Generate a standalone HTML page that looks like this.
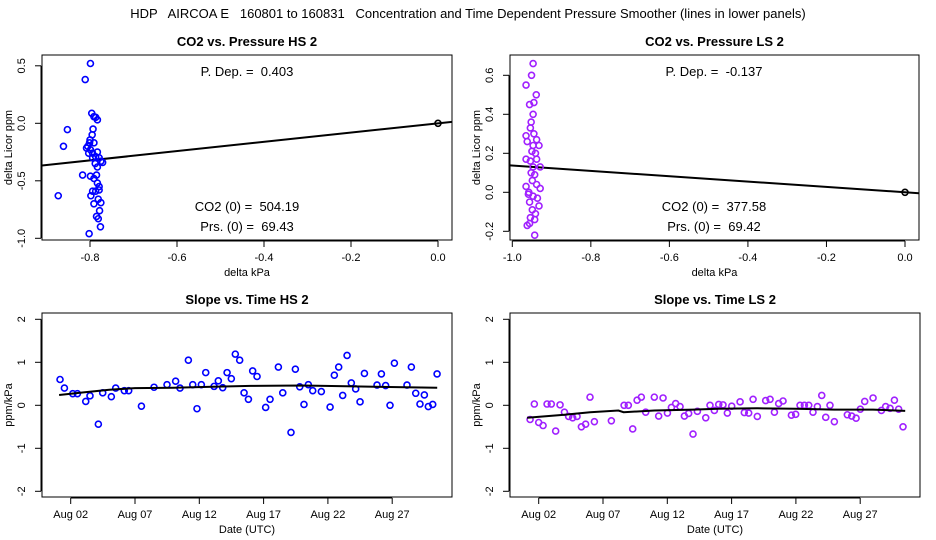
<!DOCTYPE html>
<html><head><meta charset="utf-8"><style>
body{margin:0;background:#fff;}
svg{display:block;font-family:"Liberation Sans",sans-serif;}
svg text{white-space:pre;}
</style></head><body>
<svg id="c" width="936" height="540" xmlns="http://www.w3.org/2000/svg">
<text x="468" y="18" font-size="13" text-anchor="middle" xml:space="preserve">HDP   AIRCOA E   160801 to 160831   Concentration and Time Dependent Pressure Smoother (lines in lower panels)</text>
</svg>
<script>
// ---- data ----
const hsPresX=[-0.799,-0.811,-0.852,-0.861,-0.873,-0.817,-0.802,-0.796,-0.791,-0.787,-0.783,-0.793,-0.795,-0.800,-0.805,-0.808,-0.799,-0.791,-0.783,-0.787,-0.779,-0.775,-0.771,-0.794,-0.788,-0.783,-0.785,-0.799,-0.791,-0.783,-0.779,-0.787,-0.794,-0.798,-0.781,-0.775,-0.791,-0.778,-0.785,-0.781,-0.776,-0.794,-0.801,-0.779,-0.803];
const hsPresY=[0.52,0.38,-0.055,-0.20,-0.63,-0.45,-0.96,0.087,0.058,0.052,0.03,-0.05,-0.10,-0.145,-0.20,-0.215,-0.23,-0.17,-0.25,-0.29,-0.30,-0.33,-0.34,-0.30,-0.35,-0.38,-0.45,-0.46,-0.48,-0.52,-0.55,-0.59,-0.59,-0.63,-0.66,-0.69,-0.70,-0.76,-0.81,-0.83,-0.90,-0.26,-0.17,-0.58,-0.26];
const lsPresX=[-0.947,-0.951,-0.965,-0.939,-0.945,-0.956,-0.947,-0.952,-0.954,-0.965,-0.962,-0.938,-0.947,-0.932,-0.950,-0.965,-0.954,-0.938,-0.947,-0.929,-0.943,-0.949,-0.965,-0.938,-0.929,-0.959,-0.947,-0.956,-0.932,-0.949,-0.941,-0.954,-0.943,-0.962,-0.956,-0.943,-0.941,-0.952,-0.936,-0.945,-0.958];
const lsPresY=[0.66,0.60,0.55,0.50,0.46,0.45,0.40,0.36,0.33,0.29,0.26,0.27,0.24,0.24,0.21,0.17,0.16,0.17,0.13,0.13,0.09,0.06,0.03,0.04,0.02,-0.01,-0.02,-0.05,-0.07,-0.09,-0.11,-0.13,-0.14,-0.17,-0.16,-0.22,0.20,0.10,-0.03,0.30,0.00];
const hsSlopeDay=[1.17,1.51,2.16,2.52,3.17,3.50,4.15,4.49,5.16,5.50,6.17,6.51,7.50,8.48,9.49,10.16,10.50,11.15,11.49,11.82,12.16,12.50,13.15,13.48,13.82,14.16,14.49,14.80,15.14,15.48,15.82,16.15,16.49,17.16,17.50,18.15,18.49,19.13,19.47,19.81,20.14,20.48,20.82,21.49,22.17,22.50,22.84,23.15,23.49,23.82,24.16,24.50,24.84,25.82,26.16,26.49,26.83,27.17,28.15,28.49,28.83,29.16,29.50,29.81,30.15,30.49];
const hsSlopeVal=[0.60,0.40,0.27,0.27,0.09,0.22,-0.44,0.29,0.20,0.40,0.34,0.34,-0.02,0.42,0.48,0.56,0.40,1.05,0.48,-0.08,0.48,0.76,0.44,0.57,0.41,0.76,0.62,1.19,1.05,0.29,0.14,0.80,0.67,-0.05,0.14,0.89,0.29,-0.63,0.84,0.43,0.02,0.48,0.34,0.32,-0.04,0.70,0.89,0.23,1.16,0.52,0.38,0.08,0.74,0.47,0.73,0.46,0.00,0.98,0.47,0.89,0.28,0.03,0.24,-0.03,0.02,0.73];
const hsSmoothDay=[1.1,3,5,7,10,13,16,20,24,28,30.5];
const hsSmoothVal=[0.24,0.30,0.36,0.40,0.41,0.43,0.45,0.46,0.44,0.42,0.41];
const lsSlopeDay=[1.33,1.66,2.00,2.34,2.65,2.98,3.32,3.66,4.00,4.33,4.64,4.98,5.32,5.65,5.99,6.33,7.65,8.64,8.97,9.31,9.65,9.98,10.32,10.99,11.33,11.67,12.01,12.32,12.65,12.99,13.33,13.66,14.00,14.34,14.99,15.32,15.66,16.00,16.33,16.67,17.01,17.66,17.99,18.33,18.67,19.00,19.65,19.99,20.33,20.66,21.00,21.65,21.98,22.32,22.66,23.00,23.33,23.67,24.01,24.32,24.65,24.99,26.00,26.34,26.68,27.01,27.35,28.00,28.65,28.98,29.32,29.66,29.99,30.33];
const lsSlopeVal=[-0.33,0.03,-0.40,-0.47,0.03,0.03,-0.60,0.01,-0.16,-0.26,-0.29,-0.26,-0.50,-0.44,0.19,-0.38,-0.36,0,0,-0.55,0.12,0.19,-0.16,0.19,-0.25,0.17,-0.18,-0.05,0.04,-0.03,-0.25,-0.19,-0.67,-0.14,-0.29,0,-0.12,0.02,0.01,-0.18,-0.02,0.08,-0.17,-0.18,0.14,-0.26,0.11,0.14,-0.16,0.04,0.10,-0.23,-0.21,0,0,0,-0.16,-0.03,0.23,-0.28,0,-0.38,-0.22,-0.25,-0.30,-0.09,0.09,0.17,-0.12,-0.03,-0.07,0.12,-0.09,-0.50];
const lsSmoothDay=[1.1,4,6,8.2,8.6,11,14,16,19,22,25,28,30.5];
const lsSmoothVal=[-0.29,-0.22,-0.16,-0.12,-0.16,-0.12,-0.10,-0.08,-0.07,-0.08,-0.10,-0.10,-0.13];
const presTicksHS=[-0.8,-0.6,-0.4,-0.2,0.0];
const presTickLabHS=["-0.8","-0.6","-0.4","-0.2","0.0"];
const yTicksHS=[0.5,0,-0.5,-1.0];
const yTickLabHS=["0.5","0.0","-0.5","-1.0"];
const presTicksLS=[-1.0,-0.8,-0.6,-0.4,-0.2,0.0];
const presTickLabLS=["-1.0","-0.8","-0.6","-0.4","-0.2","0.0"];
const yTicksLS=[0.6,0.4,0.2,0,-0.2];
const yTickLabLS=["0.6","0.4","0.2","0.0","-0.2"];
const dayTicks=[2,7,12,17,22,27];
const dayTickLab=["Aug 02","Aug 07","Aug 12","Aug 17","Aug 22","Aug 27"];
const slopeTicks=[2,1,0,-1,-2];
const slopeTickLab=["2","1","0","-1","-2"];
const pdepHS=0.403, pdepLS=-0.137;

const svg=document.getElementById('c');
const NS='http://www.w3.org/2000/svg';
function mk(t,a,p){const e=document.createElementNS(NS,t);for(const k in a)e.setAttribute(k,a[k]);(p||svg).appendChild(e);return e;}
function txt(x,y,s,o){const e=mk('text',Object.assign({x:x,y:y,'font-size':12,'text-anchor':'middle'},o||{}));e.textContent=s;return e;}

function panel(cfg){
  const g=mk('g',{});
  
  
  const {x0,x1,y0,y1}=cfg.box;
  const b=mk('rect',{x:x0,y:y0,width:x1-x0,height:y1-y0,fill:'none',stroke:'#000','stroke-width':1},g);
  
  
  const t=txt((x0+x1)/2,y0-9,cfg.title,{'font-weight':'bold','font-size':13});g.appendChild(t);
  
  
  const xa=mk('g',{},g);
  
  
  const xs=cfg.xt.map(cfg.sx);
  mk('line',{x1:xs[0],x2:xs[xs.length-1],y1:y1+1,y2:y1+1,stroke:'#000'},xa);
  cfg.xt.forEach((v,i)=>{const px=cfg.sx(v);mk('line',{x1:px,x2:px,y1:y1+1,y2:y1+7,stroke:'#000'},xa);
    const l=txt(px,y1+21,cfg.xl[i],{'font-size':11});xa.appendChild(l);
    
    });
  const xt=txt((x0+x1)/2,y1+36,cfg.xtitle,{'font-size':11});g.appendChild(xt);
  
  
  const ya=mk('g',{},g);
  
  
  const ys=cfg.yt.map(cfg.sy);
  mk('line',{x1:x0-1,x2:x0-1,y1:ys[0],y2:ys[ys.length-1],stroke:'#000'},ya);
  cfg.yt.forEach((v,i)=>{const py=cfg.sy(v);mk('line',{x1:x0-7,x2:x0-1,y1:py,y2:py,stroke:'#000'},ya);
    const l=txt(x0-17,py,cfg.yl[i],{'font-size':11,transform:`rotate(-90 ${x0-17} ${py})`});ya.appendChild(l);
    
    });
  const yy=(y0+y1)/2;
  const ytl=txt(x0-30,yy,cfg.ytitle,{'font-size':11,transform:`rotate(-90 ${x0-30} ${yy})`});g.appendChild(ytl);
  
  
  return g;
}
function pts(g,X,Y,sx,sy,col){
  X.forEach((v,i)=>{const c=mk('circle',{cx:sx(v),cy:sy(Y[i]),r:3,fill:'none',stroke:col,'stroke-width':1.6},g);
    
    });
}
function line(g,X,Y,sx,sy,name){
  const d=X.map((v,i)=>(i?'L':'M')+sx(v).toFixed(1)+' '+sy(Y[i]).toFixed(1)).join(' ');
  const p=mk('path',{d:d,fill:'none',stroke:'#000','stroke-width':2},g);
  
  
}
function clipFor(id,b){const cp=mk('clipPath',{id:id});mk('rect',{x:b.x0,y:b.y0,width:b.x1-b.x0,height:b.y1-b.y0},cp);}

{const box={x0:42,x1:452,y0:55,y1:240};
 const sx=v=>438+v*435, sy=v=>123.3-v*115;
 const g=panel({name:'co2-vs-pressure-hs-panel',box,title:'CO2 vs. Pressure HS 2',sx,sy,xt:presTicksHS,xl:presTickLabHS,yt:yTicksHS,yl:yTickLabHS,xtitle:'delta kPa',ytitle:'delta Licor ppm'});
 clipFor('c1',box);const gg=mk('g',{'clip-path':'url(#c1)'},g);
 line(gg,[-0.95,0.05],[-0.95*pdepHS,0.05*pdepHS],sx,sy,'regression-line');
 pts(gg,hsPresX,hsPresY,sx,sy,'#0000ff');pts(gg,[0],[0],sx,sy,'#000');
 [['P. Dep. =  0.403',76],['CO2 (0) =  504.19',211],['Prs. (0) =  69.43',231]].forEach(a=>{const t=txt(247,a[1],a[0],{'font-size':13});g.appendChild(t);
   
   });
}
{const box={x0:510,x1:919,y0:55,y1:240};
 const sx=v=>905+v*392.7, sy=v=>192.3-v*195;
 const g=panel({name:'co2-vs-pressure-ls-panel',box,title:'CO2 vs. Pressure LS 2',sx,sy,xt:presTicksLS,xl:presTickLabLS,yt:yTicksLS,yl:yTickLabLS,xtitle:'delta kPa',ytitle:'delta Licor ppm'});
 clipFor('c2',box);const gg=mk('g',{'clip-path':'url(#c2)'},g);
 line(gg,[-1.05,0.05],[-1.05*pdepLS,0.05*pdepLS],sx,sy,'regression-line');
 pts(gg,lsPresX,lsPresY,sx,sy,'#a020ff');pts(gg,[0],[0],sx,sy,'#000');
 [['P. Dep. =  -0.137',76],['CO2 (0) =  377.58',211],['Prs. (0) =  69.42',231]].forEach(a=>{const t=txt(714,a[1],a[0],{'font-size':13});g.appendChild(t);
   
   });
}
{const box={x0:42,x1:452,y0:313,y1:497};
 const sx=d=>70.7+(d-2)*12.86, sy=v=>405.3-v*43;
 const g=panel({name:'slope-vs-time-hs-panel',box,title:'Slope vs. Time HS 2',sx,sy,xt:dayTicks,xl:dayTickLab,yt:slopeTicks,yl:slopeTickLab,xtitle:'Date (UTC)',ytitle:'ppm/kPa'});
 pts(g,hsSlopeDay,hsSlopeVal,sx,sy,'#0000ff');
 line(g,hsSmoothDay,hsSmoothVal,sx,sy,'smoother-line');
}
{const box={x0:510,x1:920,y0:313,y1:497};
 const sx=d=>538.7+(d-2)*12.86, sy=v=>405.3-v*43;
 const g=panel({name:'slope-vs-time-ls-panel',box,title:'Slope vs. Time LS 2',sx,sy,xt:dayTicks,xl:dayTickLab,yt:slopeTicks,yl:slopeTickLab,xtitle:'Date (UTC)',ytitle:'ppm/kPa'});
 pts(g,lsSlopeDay,lsSlopeVal,sx,sy,'#a020ff');
 line(g,lsSmoothDay,lsSmoothVal,sx,sy,'smoother-line');
}
</script>
</body></html>
